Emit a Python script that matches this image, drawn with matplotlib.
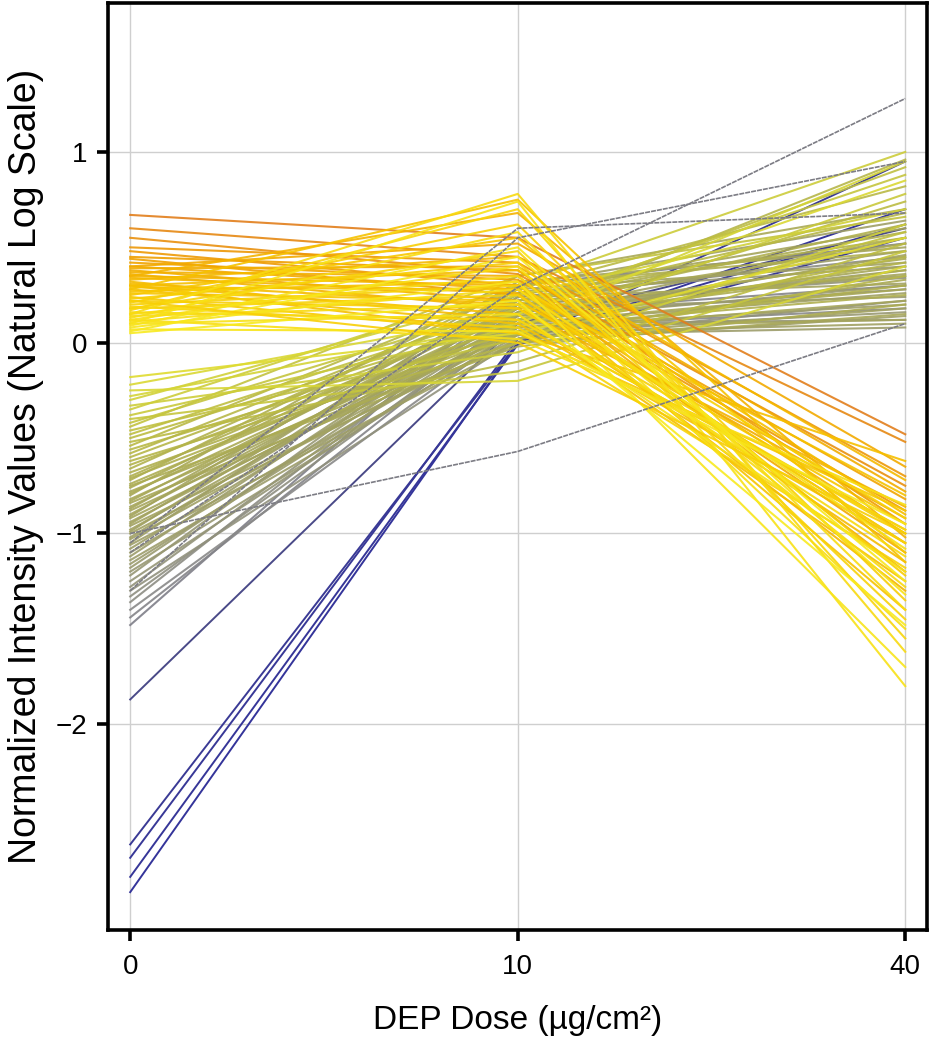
from matplotlib import pyplot as plt
from matplotlib.colors import LinearSegmentedColormap, Normalize
import numpy as np

doses = ['0', '10', '40']

# profiles that fall with dose: (dose 0, dose 10, dose 40)
down_lines = [
    (0.67, 0.55, -0.48), (0.60, 0.45, -0.52), (0.55, 0.36, -0.75), (0.50, 0.42, -0.70),
    (0.48, 0.30, -0.88), (0.45, 0.38, -0.95), (0.44, 0.25, -1.05), (0.42, 0.33, -0.82),
    (0.40, 0.28, -1.10), (0.39, 0.40, -0.78), (0.38, 0.22, -0.92), (0.37, 0.35, -1.20),
    (0.36, 0.18, -0.86), (0.35, 0.30, -1.00), (0.34, 0.26, -1.30), (0.33, 0.45, -0.72),
    (0.32, 0.12, -0.98), (0.31, 0.20, -1.15), (0.30, 0.38, -0.90), (0.30, 0.15, -1.25),
    (0.29, 0.28, -0.80), (0.28, 0.10, -1.05), (0.27, 0.32, -1.40), (0.26, 0.22, -0.95),
    (0.40, 0.52, -0.65), (0.30, 0.05, -0.62), (0.35, 0.68, -1.02), (0.28, 0.75, -1.15),
    (0.25, 0.55, -1.10), (0.24, 0.05, -0.88), (0.23, 0.42, -1.22), (0.22, 0.18, -1.00),
    (0.21, 0.62, -1.35), (0.20, 0.30, -0.92), (0.19, 0.08, -1.18), (0.18, 0.48, -1.45),
    (0.18, 0.25, -1.05), (0.17, 0.70, -1.55), (0.16, 0.12, -0.98), (0.15, 0.35, -1.28),
    (0.15, 0.78, -1.62), (0.14, 0.20, -1.12), (0.13, 0.58, -1.40), (0.12, 0.02, -0.85),
    (0.12, 0.40, -1.50), (0.11, 0.28, -1.08), (0.10, 0.74, -1.80), (0.10, 0.15, -1.20),
    (0.09, 0.50, -1.32), (0.08, 0.32, -1.70), (0.07, 0.06, -0.95), (0.06, 0.45, -1.25),
    (0.05, 0.22, -1.48), (0.22, 0.00, -1.00),
]

# profiles that rise with dose
up_lines = [
    (-0.18, 0.05, 0.55), (-0.22, 0.15, 0.85), (-0.25, -0.20, 0.40), (-0.28, 0.10, 0.95),
    (-0.30, 0.25, 0.70), (-0.33, -0.05, 0.62), (-0.35, 0.30, 1.00), (-0.38, 0.08, 0.78),
    (-0.40, -0.15, 0.48), (-0.42, 0.20, 0.88), (-0.44, 0.35, 0.66), (-0.46, 0.02, 0.58),
    (-0.48, 0.18, 0.92), (-0.50, 0.12, 0.74), (-0.52, -0.10, 0.52), (-0.54, 0.28, 0.82),
    (-0.56, 0.06, 0.45), (-0.58, 0.22, 0.68), (-0.60, 0.15, 0.96),
    (-0.62, 0.00, 0.35), (-0.64, 0.10, 0.42), (-0.66, 0.25, 0.55), (-0.68, 0.05, 0.30),
    (-0.70, 0.18, 0.62), (-0.71, 0.08, 0.25), (-0.72, 0.30, 0.48), (-0.74, 0.12, 0.38),
    (-0.75, -0.02, 0.20), (-0.76, 0.22, 0.58), (-0.78, 0.04, 0.33), (-0.79, 0.16, 0.44),
    (-0.80, 0.35, 0.70), (-0.82, 0.10, 0.28), (-0.83, 0.20, 0.52), (-0.84, 0.00, 0.15),
    (-0.86, 0.14, 0.40), (-0.87, 0.26, 0.60), (-0.88, 0.06, 0.22), (-0.90, 0.18, 0.36),
    (-0.91, 0.32, 0.50), (-0.92, 0.08, 0.12), (-0.94, 0.12, 0.46), (-0.95, 0.24, 0.31),
    (-0.96, 0.02, 0.18), (-0.98, 0.15, 0.55), (-0.99, 0.28, 0.42), (-1.00, 0.05, 0.10),
    (-1.02, 0.20, 0.35), (-1.03, 0.10, 0.26), (-1.05, 0.30, 0.64), (-1.06, 0.00, 0.14),
    (-1.08, 0.16, 0.38), (-1.10, 0.08, 0.20), (-1.12, 0.22, 0.48), (-1.14, 0.04, 0.08),
    (-1.16, 0.12, 0.30), (-1.18, 0.18, 0.24), (-1.20, 0.06, 0.16), (-1.22, 0.26, 0.40),
    (-1.25, 0.10, 0.12), (-1.28, 0.20, 0.34), (-1.30, 0.02, 0.22), (-1.33, 0.14, 0.28),
    (-1.36, 0.24, 0.45), (-1.40, 0.08, 0.18), (-1.44, 0.16, 0.30), (-1.48, 0.30, 0.52),
]

# a few odd profiles, drawn grey
grey_lines = [
    (-1.00, -0.57, 0.10),
    (-1.10, 0.29, 1.28),
    (-1.05, 0.60, 0.68),
    (-1.30, 0.55, 0.95),
]

# steepest risers
blue_lines = [
    (-1.87, 0.10, 0.60),
    (-2.63, 0.00, 0.95),
    (-2.70, 0.02, 0.62),
    (-2.80, -0.01, 0.55),
    (-2.88, 0.00, 0.70),
]

plt.rcParams['font.family'] = ['Liberation Sans', 'DejaVu Sans']

cmap = LinearSegmentedColormap.from_list('dose', [
    (0.000, '#34349a'), (0.286, '#4a4a88'), (0.417, '#8a8a88'), (0.486, '#9c9c6c'),
    (0.569, '#a6a65a'), (0.667, '#bcbc42'), (0.736, '#d6d636'), (0.819, '#f8ea20'),
    (0.875, '#f8ca00'), (0.931, '#f0a000'), (1.000, '#e07a20')])
norm = Normalize(-2.9, 0.7)

fig = plt.figure(figsize=(9.32, 10.5), dpi=100)
ax = fig.add_axes([0.116, 0.114, 0.879, 0.883])
x = np.arange(len(doses))

for row in blue_lines:
    ax.plot(x, row, color=cmap(norm(row[0])), lw=1.4)
for row in up_lines[::-1]:
    ax.plot(x, row, color=cmap(norm(row[0])), lw=1.5, alpha=0.9)
for row in down_lines:
    ax.plot(x, row, color=cmap(norm(row[0])), lw=1.5, alpha=0.9)
for row in grey_lines:
    ax.plot(x, row, color='#7c7c84', lw=1.2, ls=(0, (3, 0.6)))

ax.set_xlim(-0.057, 2.057)
ax.set_ylim(-3.08, 1.78)
ax.set_xticks(x)
ax.set_xticklabels(doses)
ax.set_yticks([-2, -1, 0, 1])
ax.grid(True, color='#cfcfcf', lw=1.0)
ax.set_axisbelow(True)
for s in ax.spines.values():
    s.set_linewidth(2.6)
ax.tick_params(length=8, width=2.6, labelsize=20)
ax.tick_params(axis='x', pad=9)
ax.tick_params(axis='y', pad=7)
ax.set_xlabel('DEP Dose (µg/cm²)', fontsize=24, labelpad=18)
ax.set_ylabel('Normalized Intensity Values (Natural Log Scale)', fontsize=27, labelpad=8)

fig.savefig('out.png', dpi=100)
